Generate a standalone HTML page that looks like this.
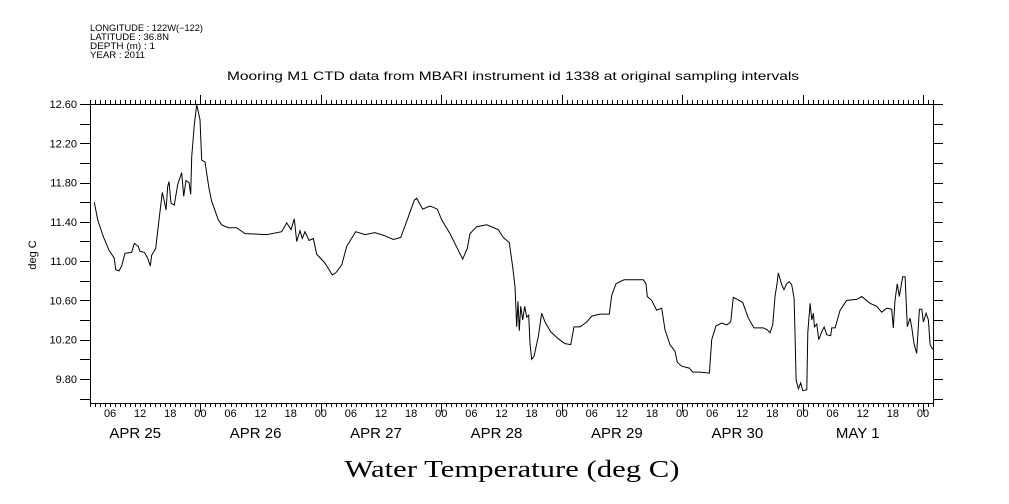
<!DOCTYPE html>
<html><head><meta charset="utf-8"><style>
html,body{margin:0;padding:0;background:#fff;}
svg{display:block;}
</style></head><body>
<svg id="chart" width="1009" height="504" viewBox="0 0 1009 504" xmlns="http://www.w3.org/2000/svg" font-family="Liberation Sans, sans-serif">
<g font-size="9" fill="#000">
<text x="90" y="31" textLength="113" lengthAdjust="spacingAndGlyphs">LONGITUDE : 122W(−122)</text>
<text x="90" y="40" textLength="79" lengthAdjust="spacingAndGlyphs">LATITUDE : 36.8N</text>
<text x="90" y="49" textLength="65" lengthAdjust="spacingAndGlyphs">DEPTH (m) : 1</text>
<text x="90" y="58" textLength="55" lengthAdjust="spacingAndGlyphs">YEAR : 2011</text>
</g>
<text x="513" y="80" font-size="12" text-anchor="middle" textLength="572" lengthAdjust="spacingAndGlyphs">Mooring M1 CTD data from MBARI instrument id 1338 at original sampling intervals</text>
<text transform="translate(36,255) rotate(-90)" font-size="11" text-anchor="middle">deg C</text>
<text x="512" y="477" font-family="Liberation Serif, serif" font-size="24" text-anchor="middle" textLength="335" lengthAdjust="spacingAndGlyphs">Water Temperature (deg C)</text>
<g id="axes"></g>
<g id="series"></g>
</svg>
<script>
// hours since Apr 25 00:00 (2011)
const hours = [2.86,3.53,4.65,5.79,6.84,7.12,7.78,8.32,8.98,10.31,10.83,11.63,11.97,12.82,13.5,14.02,14.3,15.09,15.75,16.41,16.81,17.15,17.49,17.74,18.14,18.8,19.48,20.28,20.67,21.13,21.73,22.07,22.27,22.79,23.27,23.58,23.92,24.26,24.92,25.72,26.25,27.57,28.25,29.56,31.24,32.89,37.22,40.21,41.2,42.06,42.72,43.2,43.85,44.31,44.85,45.65,46.5,47.18,48.83,50.29,50.97,52.16,53.16,54.95,56.81,58.8,60.65,62.45,63.92,65.44,66.63,67.11,68.31,69.76,71.22,72.09,73.75,75.2,76.28,77.2,77.73,79.07,81.06,83.37,84.37,85.57,86.24,86.7,87.04,87.3,87.56,87.84,88.24,88.64,89.03,89.43,89.69,90.03,90.49,91.35,92.02,92.68,93.82,95.33,96.67,97.8,98.46,99.66,100.99,101.99,103.64,105.5,105.97,106.83,108.43,110.28,112.27,112.81,113.07,113.95,114.94,115.94,116.6,117.59,118.59,119.05,119.92,121.44,122.12,123.57,125.43,125.9,126.76,127.9,128.89,129.69,130.21,131.01,132.08,133.2,134.33,136.19,136.98,137.52,138.06,138.52,138.98,139.18,139.85,140.31,140.85,141.37,141.85,142.31,142.51,142.71,143.17,143.64,144.04,144.84,145.04,145.5,145.84,146.16,146.36,146.84,147.23,147.83,148.29,148.83,149.62,149.82,150.48,151.48,152.81,154.8,155.8,157.45,158.79,159.78,160.78,161.77,162.09,162.43,162.89,163.29,163.97,164.43,164.88,165.42,165.76,166.22,166.76,167.28,167.76,168.08,168.62,169.08,169.42,169.96];
const temps = [11.6,11.42,11.25,11.11,11.03,10.91,10.9,10.95,11.08,11.09,11.18,11.15,11.1,11.09,11.03,10.95,11.06,11.13,11.42,11.7,11.61,11.52,11.76,11.81,11.59,11.57,11.78,11.9,11.66,11.82,11.8,11.68,12.06,12.39,12.59,12.52,12.44,12.03,12.01,11.74,11.61,11.42,11.37,11.34,11.34,11.28,11.27,11.3,11.39,11.32,11.43,11.2,11.31,11.23,11.3,11.21,11.23,11.07,10.98,10.86,10.88,10.96,11.15,11.3,11.27,11.29,11.26,11.22,11.24,11.45,11.62,11.64,11.53,11.56,11.53,11.42,11.28,11.13,11.02,11.13,11.28,11.35,11.37,11.32,11.24,11.19,10.94,10.74,10.33,10.59,10.29,10.54,10.4,10.54,10.43,10.45,10.16,10.0,10.03,10.23,10.47,10.38,10.28,10.21,10.16,10.15,10.33,10.33,10.38,10.44,10.46,10.46,10.65,10.77,10.81,10.81,10.81,10.77,10.64,10.6,10.5,10.52,10.3,10.15,10.08,9.97,9.93,9.91,9.87,9.87,9.86,10.2,10.34,10.37,10.35,10.38,10.63,10.61,10.58,10.42,10.32,10.32,10.3,10.27,10.35,10.64,10.79,10.88,10.76,10.71,10.77,10.79,10.76,10.62,10.23,9.79,9.7,9.76,9.68,9.69,10.27,10.57,10.4,10.47,10.33,10.36,10.2,10.28,10.33,10.25,10.24,10.32,10.32,10.5,10.6,10.61,10.64,10.57,10.54,10.48,10.52,10.51,10.32,10.6,10.77,10.64,10.84,10.84,10.33,10.42,10.33,10.16,10.06,10.51,10.51,10.38,10.47,10.4,10.15,10.1];
const yTickLabels = ["9.80","10.20","10.60","11.00","11.40","11.80","12.20","12.60"];
const hourLabels = ["06","12","18","00"];
const dayLabels = ["APR 25","APR 26","APR 27","APR 28","APR 29","APR 30","MAY  1"];

const L=90, R=933, T=104, B=403;
const tMin=2, tMax=170, vMin=9.555, vMax=12.6;
const X = t => L + (t - tMin) * (R - L) / (tMax - tMin);
const Y = v => T + (vMax - v) * (B - T) / (vMax - vMin);
const NS="http://www.w3.org/2000/svg";
const axes=document.getElementById('axes');
const series=document.getElementById('series');
function mk(tag, attrs, parent){const e=document.createElementNS(NS,tag);for(const k in attrs)e.setAttribute(k,attrs[k]);parent.appendChild(e);return e;}

const frame=mk('rect',{x:L+0.5,y:T+0.5,width:R-L,height:B-T,fill:'none',stroke:'#000','stroke-width':1},axes);



for(let v=9.6; v<=12.61; v+=0.2){
  const y=Math.round(Y(v))+0.5;
  const tl=mk('line',{x1:L-10,x2:L,y1:y,y2:y,stroke:'#000'},axes);
  
  
  const tr=mk('line',{x1:R,x2:R+10,y1:y,y2:y,stroke:'#000'},axes);
  
  
}
yTickLabels.forEach(s=>{
  const t=mk('text',{x:L-13,y:Y(parseFloat(s))+4,'font-size':11,'text-anchor':'end'},axes);
  t.textContent=s;
  
  
});
for(let h=Math.ceil(tMin); h<=tMax; h++){
  const x=Math.round(X(h))+0.5;
  const major=(h%24===0);
  const len=major?9:4;
  const tt=mk('line',{x1:x,x2:x,y1:T-len,y2:T,stroke:'#000'},axes);
  
  
  const tb=mk('line',{x1:x,x2:x,y1:B,y2:B+len,stroke:'#000'},axes);
  
  
  if(h%6===0){
    const lab=mk('text',{x:X(h),y:417,'font-size':11,'text-anchor':'middle'},axes);
    lab.textContent=hourLabels[(h/6-1)%4];
    
    
  }
}
dayLabels.forEach((s,i)=>{
  const lab=mk('text',{x:X(12+24*i)-5,y:438,'font-size':15,'text-anchor':'middle','xml:space':'preserve'},axes);
  lab.textContent=s;
  
  
});
let d='';
hours.forEach((h,i)=>{d+=(i?'L':'M')+X(h).toFixed(1)+' '+Y(temps[i]).toFixed(1);});
const line=mk('path',{d:d,fill:'none',stroke:'#000','stroke-width':1},series);


</script>
</body></html>
